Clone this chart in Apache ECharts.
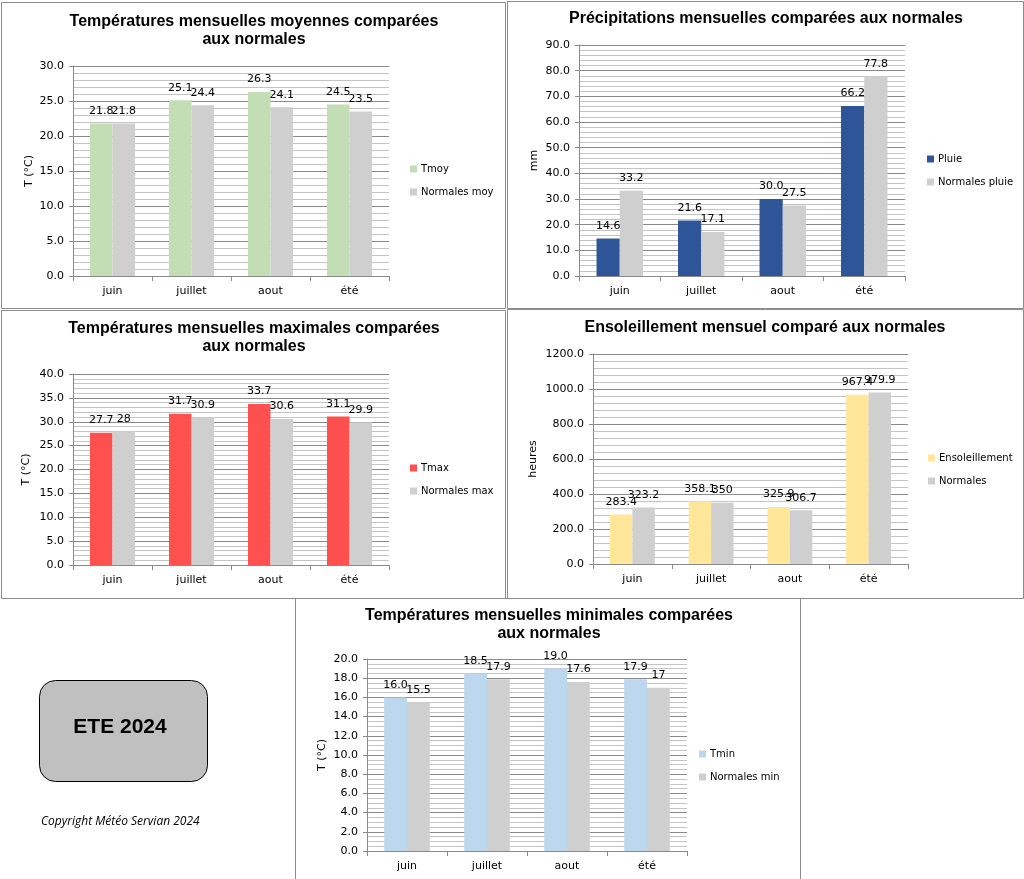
<!DOCTYPE html>
<html>
<head>
<meta charset="utf-8">
<script src="https://cdn.jsdelivr.net/npm/echarts@6/dist/echarts.min.js"></script>
<style>
html,body{margin:0;padding:0;background:#fff;}
#c{width:1024px;height:879px;}
</style>
</head>
<body>
<div id="c"></div>
<script>
// ---- data ----
const categories = ['juin', 'juillet', 'aout', 'été'];
const tmoy = [21.8, 25.1, 26.3, 24.5];
const normMoy = [21.8, 24.4, 24.1, 23.5];
const pluie = [14.6, 21.6, 30.0, 66.2];
const normPluie = [33.2, 17.1, 27.5, 77.8];
const tmax = [27.7, 31.7, 33.7, 31.1];
const normMax = [28, 30.9, 30.6, 29.9];
const soleil = [283.4, 358.1, 325.9, 967.4];
const normSoleil = [323.2, 350, 306.7, 979.9];
const tmin = [16.0, 18.5, 19.0, 17.9];
const normMin = [15.5, 17.9, 17.6, 17];

const titles = [
  'Températures mensuelles moyennes comparées\naux normales',
  'Précipitations mensuelles comparées aux normales',
  'Températures mensuelles maximales comparées\naux normales',
  'Ensoleillement mensuel comparé aux normales',
  'Températures mensuelles minimales comparées\naux normales'
];
const axisNames = ['T (°C)', 'mm', 'T (°C)', 'heures', 'T (°C)'];
const yMax = [30, 90, 40, 1200, 20];
const yInterval = [5, 10, 5, 200, 2];
const yMinorSplit = [5, 5, 5, 5, 4];
const seriesNames = [
  ['Tmoy', 'Normales moy'],
  ['Pluie', 'Normales pluie'],
  ['Tmax', 'Normales max'],
  ['Ensoleillement', 'Normales'],
  ['Tmin', 'Normales min']
];
const seriesData = [
  [tmoy, normMoy],
  [pluie, normPluie],
  [tmax, normMax],
  [soleil, normSoleil],
  [tmin, normMin]
];

// ---- layout / style ----
const mainColors = ['#c3deb4', '#2e5597', '#ff5050', '#ffe699', '#bdd7ee'];
const normColor = '#d0cfcf';
const grids = [
  {left: 73, top: 66, width: 316, height: 210},
  {left: 579, top: 45, width: 326, height: 231},
  {left: 73, top: 374, width: 316, height: 191},
  {left: 593, top: 354, width: 315, height: 210},
  {left: 367, top: 659, width: 320, height: 192}
];
const titlePos = [
  {x: 254, y: 13}, {x: 766, y: 10}, {x: 254, y: 320}, {x: 765, y: 319}, {x: 549, y: 607}
];
const legendPos = [
  {x: 410, y: 164}, {x: 927, y: 154}, {x: 410, y: 463}, {x: 928, y: 453}, {x: 699, y: 749}
];
const nameGaps = [38, 39, 41, 54, 39];
const FONT = 'DejaVu Sans';
const GRID_MAJOR = '#8a8a8a';
const GRID_MINOR = '#c4c4c4';

const option = {
  animation: false,
  backgroundColor: '#fff',
  title: titles.map((t, i) => ({
    text: t,
    left: titlePos[i].x,
    top: titlePos[i].y,
    textAlign: 'center',
    padding: 0,
    textStyle: {fontFamily: 'Liberation Sans', fontWeight: 'bold', fontSize: 16, color: '#000', lineHeight: 18}
  })),
  legend: seriesNames.map((n, i) => ({
    data: n,
    orient: 'vertical',
    left: legendPos[i].x,
    top: legendPos[i].y,
    padding: 0,
    itemWidth: 7,
    itemHeight: 7,
    itemGap: 13,
    icon: 'rect',
    selectedMode: false,
    textStyle: {fontFamily: FONT, fontSize: 10, color: '#000', padding: [0, 0, 0, -1]}
  })),
  grid: grids.map(g => Object.assign({containLabel: false}, g)),
  xAxis: grids.map((g, i) => ({
    type: 'category',
    gridIndex: i,
    data: categories,
    axisLine: {lineStyle: {color: GRID_MAJOR}},
    axisTick: {show: true, length: 5, lineStyle: {color: GRID_MAJOR}},
    axisLabel: {fontFamily: FONT, fontSize: 11, color: '#000', margin: 10},
    splitLine: {show: false}
  })),
  yAxis: grids.map((g, i) => ({
    type: 'value',
    gridIndex: i,
    min: 0,
    max: yMax[i],
    interval: yInterval[i],
    name: axisNames[i],
    nameLocation: 'middle',
    nameGap: nameGaps[i],
    nameTextStyle: {fontFamily: FONT, fontSize: 11, color: '#000'},
    axisLine: {show: true, lineStyle: {color: GRID_MAJOR}},
    axisTick: {show: true, length: 4, lineStyle: {color: GRID_MAJOR}},
    axisLabel: {fontFamily: FONT, fontSize: 11, color: '#000', margin: 9,
      formatter: v => v.toFixed(1)},
    splitLine: {show: true, lineStyle: {color: GRID_MAJOR, width: 1}},
    minorTick: {show: false, splitNumber: yMinorSplit[i]},
    minorSplitLine: {show: true, lineStyle: {color: GRID_MINOR, width: 1}}
  })),
  series: [],
  graphic: []
};

seriesNames.forEach((names, i) => {
  names.forEach((name, k) => {
    option.series.push({
      type: 'bar',
      name: name,
      xAxisIndex: i,
      yAxisIndex: i,
      data: seriesData[i][k],
      barGap: '0%',
      barCategoryGap: '43%',
      itemStyle: {color: k === 0 ? mainColors[i] : normColor},
      label: {
        show: true,
        position: 'top',
        distance: 7,
        fontFamily: FONT,
        fontSize: 11,
        color: '#000',
        formatter: p => k === 0 ? p.value.toFixed(1) : String(p.value)
      }
    });
  });
});

// panel borders
const panels = [
  [1, 2, 504, 306],
  [507, 1, 516, 307],
  [1, 310, 504, 288],
  [507, 309, 516, 289],
  [295, 598, 505, 290]
];
panels.forEach(p => {
  option.graphic.push({
    type: 'rect', silent: true,
    shape: {x: p[0] + 0.5, y: p[1] + 0.5, width: p[2], height: p[3]},
    style: {fill: 'none', stroke: '#8c8c8c', lineWidth: 1}
  });
});
option.graphic.push({
  type: 'rect', silent: true,
  shape: {x: 39.5, y: 680.5, width: 168, height: 101, r: 16},
  style: {fill: '#c0c0c0', stroke: '#000', lineWidth: 1}
});
option.graphic.push({
  type: 'text', silent: true,
  x: 120, y: 727,
  style: {text: 'ETE 2024', fontFamily: 'Liberation Sans', fontWeight: 'bold', fontSize: 21,
    fill: '#000', align: 'center', verticalAlign: 'middle'}
});
option.graphic.push({
  type: 'text', silent: true,
  x: 41, y: 822,
  style: {text: 'Copyright Météo Servian 2024', fontFamily: 'Open Sans', fontStyle: 'italic', fontSize: 12,
    fill: '#000', align: 'left', verticalAlign: 'middle'}
});

const chart = echarts.init(document.getElementById('c'), null, {renderer: 'canvas'});
chart.setOption(option);
</script>
</body>
</html>
